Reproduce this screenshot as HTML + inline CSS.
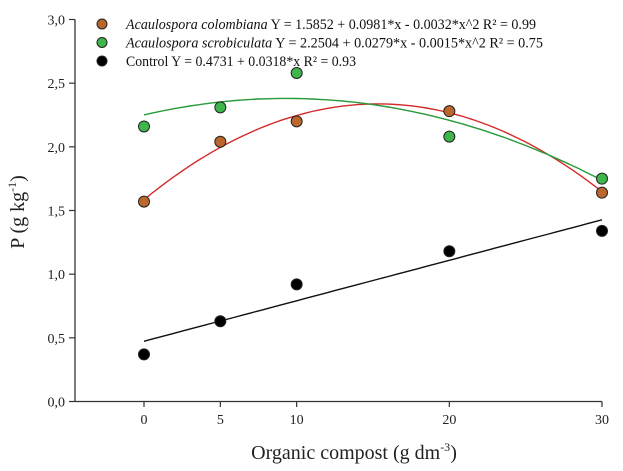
<!DOCTYPE html>
<html><head><meta charset="utf-8"><style>
html,body{margin:0;padding:0;background:#fff;}
svg{display:block;font-family:"Liberation Serif",serif;}
</style></head><body>
<svg id="chart" width="623" height="471" viewBox="0 0 623 471"></svg>
<script>
const xCats=[0,5,10,20,30];
const colombiana=[1.57,2.04,2.20,2.28,1.64];
const scrobiculata=[2.16,2.31,2.58,2.08,1.75];
const control=[0.37,0.63,0.92,1.18,1.34];
const coefColombiana=[1.5852,0.0981,-0.0032];
const coefScrob=[2.2504,0.0279,-0.0015];
const coefControl=[0.4731,0.0318,0];
const yTicks=[0,0.5,1.0,1.5,2.0,2.5,3.0];
const yTickLabels=["0,0","0,5","1,0","1,5","2,0","2,5","3,0"];
const xTickLabels=["0","5","10","20","30"];

const NS="http://www.w3.org/2000/svg";
const svg=document.getElementById('chart');
const X=v=>144+v*(602-144)/30;
const Y=v=>401.5-v*(401.5-19.5)/3;
function el(tag,attrs,parent){const e=document.createElementNS(NS,tag);for(const k in attrs)e.setAttribute(k,attrs[k]);(parent||svg).appendChild(e);return e;}

const axes=el('g',{});


const ya=el('line',{x1:75,y1:19.5,x2:75,y2:401.5,stroke:'#333','stroke-width':1.3},axes);


const xa=el('line',{x1:75,y1:401.5,x2:602,y2:401.5,stroke:'#333','stroke-width':1.3},axes);


yTicks.forEach((v,i)=>{
  el('line',{x1:69,y1:Y(v),x2:75,y2:Y(v),stroke:'#333','stroke-width':1.2},axes);
  const t=el('text',{x:65,y:Y(v)+5,'text-anchor':'end','font-size':14,fill:'#222'},axes);
  t.textContent=yTickLabels[i];
  
  
});
xCats.forEach((v,i)=>{
  el('line',{x1:X(v),y1:401.5,x2:X(v),y2:407,stroke:'#333','stroke-width':1.2},axes);
  const t=el('text',{x:X(v),y:424,'text-anchor':'middle','font-size':14,fill:'#222'},axes);
  t.textContent=xTickLabels[i];
  
  
});
const xt=el('text',{x:354,y:459,'text-anchor':'middle','font-size':20,fill:'#222'});
xt.innerHTML='Organic compost (g dm<tspan dy="-8" font-size="12">-3</tspan><tspan dy="8">)</tspan>';


const yt=el('text',{x:0,y:0,'text-anchor':'middle','font-size':20,fill:'#222',transform:'translate(24,212) rotate(-90)'});
yt.innerHTML='P (g kg<tspan dy="-8" font-size="12">-1</tspan><tspan dy="8">)</tspan>';



function curve(coef,color,name){
  let d='';
  for(let x=0;x<=30;x+=0.5){const y=coef[0]+coef[1]*x+coef[2]*x*x;d+=(x===0?'M':'L')+X(x).toFixed(1)+','+Y(y).toFixed(1);}
  const p=el('path',{d:d,fill:'none',stroke:color,'stroke-width':1.4});
  
  
}
curve(coefColombiana,'#d42a2a','colombiana-fit-line');
curve(coefScrob,'#279a3a','scrobiculata-fit-line');
curve(coefControl,'#111','control-fit-line');

function points(vals,fill,name){
  vals.forEach((v,i)=>{
    const c=el('circle',{cx:X(xCats[i]),cy:Y(v),r:5.5,fill:fill,stroke:'#222','stroke-width':1});
    
    
  });
}
points(colombiana,'#bb662c','colombiana-point');
points(scrobiculata,'#3fb64c','scrobiculata-point');
points(control,'#000','control-point');

const leg=[['#bb662c','<tspan font-style="italic">Acaulospora colombiana</tspan> Y =  1.5852 + 0.0981*x - 0.0032*x^2 R² = 0.99','legend-colombiana',410],
['#3fb64c','<tspan font-style="italic">Acaulospora scrobiculata</tspan> Y =  2.2504 + 0.0279*x - 0.0015*x^2 R² = 0.75','legend-scrobiculata',417],
['#000','Control Y = 0.4731 + 0.0318*x R² = 0.93','legend-control',230]];
leg.forEach((l,i)=>{
  const g=el('g',{});
  
  
  const cy=24+i*18.5;
  el('circle',{cx:102,cy:cy,r:5,fill:l[0],stroke:'#222','stroke-width':1},g);
  const t=el('text',{x:126,y:cy+5,'font-size':14.5,fill:'#111',textLength:l[3],lengthAdjust:'spacingAndGlyphs'},g);
  t.innerHTML=l[1];
});
</script>
</body></html>
